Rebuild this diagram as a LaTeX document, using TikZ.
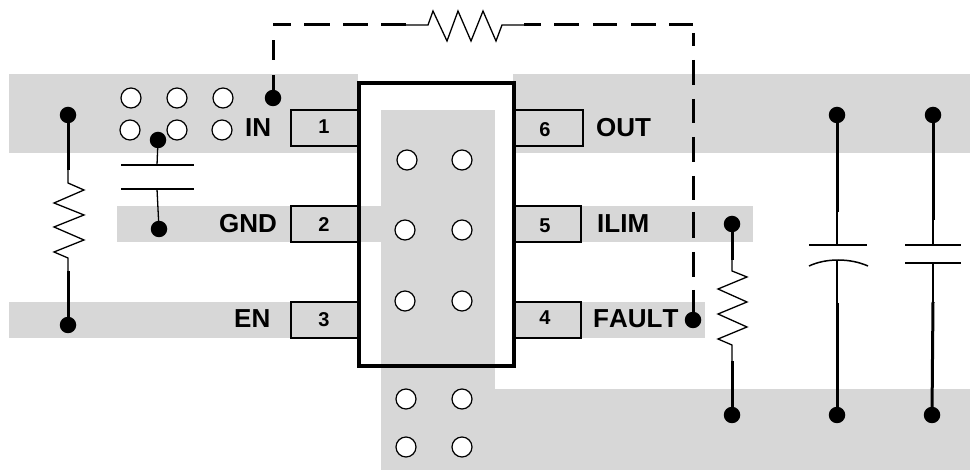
\documentclass[tikz,border=0pt]{standalone}
\usepackage{fontspec}
\setmainfont{Liberation Sans}
\definecolor{band}{HTML}{D7D7D7}
\tikzset{
  x=1pt,y=-1pt,
  pinbox/.style={draw=black,line width=1.3pt,fill=band},
  hole/.style={circle,draw=black,fill=white,line width=1.2pt,inner sep=0pt,minimum size=20pt},
  joint/.style={circle,fill=black,inner sep=0pt,minimum size=16.5pt},
  thickwire/.style={line width=3pt},
  thinwire/.style={line width=1.3pt},
  plate/.style={line width=1.5pt},
  dashwire/.style={line width=3pt},
  pinlabel/.style={font=\fontsize{26}{26}\selectfont\bfseries\addfontfeatures{Kerning=Off},anchor=base west,inner sep=0pt},
  pinnum/.style={font=\fontsize{20}{20}\selectfont\bfseries,anchor=base,inner sep=0pt},
}
\begin{document}
\begin{tikzpicture}
\useasboundingbox (0,0) rectangle (970,470);
% copper areas
\fill[band] (9,74) rectangle (358,153);
\fill[band] (513,74) rectangle (970,153);
\fill[band] (117,206) rectangle (495,242);
\fill[band] (513,206) rectangle (753,242);
\fill[band] (9,302) rectangle (358,338);
\fill[band] (513,302) rectangle (705,338);
% IC body
\fill[white] (359,83) rectangle (514,366);
\fill[band] (381,110) rectangle (495,388);
\fill[band] (359,206) rectangle (495,242);
\fill[band] (381,368) rectangle (495,470);
\fill[band] (381,389) rectangle (970,470);
\draw[line width=4pt] (359,83) rectangle (514,366);
% pins
\draw[pinbox] (291,110) rectangle (357.5,146);
\draw[pinbox] (291,206) rectangle (357.5,242);
\draw[pinbox] (291,302) rectangle (357.5,338);
\draw[pinbox] (515.5,110) rectangle (583,146);
\draw[pinbox] (515.5,206) rectangle (581,242);
\draw[pinbox] (515.5,302) rectangle (581,338);
\node[pinnum] (n1) at (324,134) {1};
\node[pinnum] (n2) at (324,232) {2};
\node[pinnum] (n3) at (324,327) {3};
\node[pinnum] (n6) at (545,137) {6};
\node[pinnum] (n5) at (545,233) {5};
\node[pinnum] (n4) at (545,325) {4};
\node[pinlabel] (lin) at (245,137) {IN};
\node[pinlabel] (lgnd) at (219,233) {GND};
\node[pinlabel] (len) at (234,328) {EN};
\node[pinlabel] (lout) at (596,137) {OUT};
\node[pinlabel] (lilim) at (597,233) {ILIM};
\node[pinlabel] (lfault) at (593,328) {FAULT};
% vias
\foreach \n/\x/\y in {a/131/98,b/177/98,c/223/98,d/130/130,e/177/130,f/222/130,
  g/407/160,h/462/160,i/405/230,j/462/230,k/405/301,l/462/301,
  m/406/399,o/462/399,p/406/447,q/462/447}
  \node[hole] (via\n) at (\x,\y) {};
% joints
\node[joint] (jin) at (273,98) {};
\node[joint] (jrt) at (68,115) {};
\node[joint] (jrb) at (68,325) {};
\node[joint] (jct) at (158,140) {};
\node[joint] (jcb) at (159,229) {};
\node[joint] (jfault) at (693,320) {};
\node[joint] (jilim) at (732,224) {};
\node[joint] (jilimb) at (732,415) {};
\node[joint] (jc2t) at (837,115) {};
\node[joint] (jc2b) at (837,415) {};
\node[joint] (jc3t) at (933,115) {};
\node[joint] (jc3b) at (932,415) {};
\coordinate (rts) at (406,25);
\coordinate (rte) at (524,25);
% dashed feedback
\draw[dashwire,dash pattern=on 23pt off 15pt on 20pt off 15pt on 18pt off 13pt on 26pt off 13pt on 25pt off 13pt on 25pt off 1pt] (jin.center) -- (273,25) -- (rts);
\draw[dashwire,dash pattern=on 17pt off 13pt on 25pt off 14pt on 24pt off 14pt on 25pt off 13pt on 24pt off 8pt on 13pt off 14pt on 25pt off 14pt on 24pt off 14pt on 25pt off 14pt on 24pt off 12pt on 26pt off 14pt on 25pt off 13pt on 31pt off 1pt] (rte) -- (693,25) -- (jfault.center);
\draw[thinwire] (rts) -- (428,25) -- (433,11) -- (447,41) -- (458,11) -- (471,41) -- (483,11) -- (496,41) -- (502,25) -- (rte);
% left resistor
\draw[thickwire] (jrt.center) -- (68,170);
\draw[thinwire] (68,170) -- (68,183) -- (84,190) -- (54,203) -- (84,215) -- (54,227) -- (84,240) -- (54,252) -- (68,258) -- (68,271);
\draw[thickwire] (68,271) -- (jrb.center);
% left capacitor
\draw[thinwire] (jct.center) -- (157,165);
\draw[plate] (121,165) -- (194,165);
\draw[plate] (121,189) -- (194,189);
\draw[thinwire] (157,189) -- (jcb.center);
% ilim resistor
\draw[thickwire] (jilim.center) -- (732,260);
\draw[thinwire] (732,260) -- (732,271) -- (747,277) -- (718,289) -- (747,302) -- (718,314) -- (747,327) -- (718,339) -- (732,345) -- (732,361);
\draw[thickwire] (732,361) -- (jilimb.center);
% polar capacitor
\draw[thickwire] (jc2t.center) -- (837,212);
\draw[thinwire] (837,212) -- (837,245);
\draw[plate] (809,245) -- (867,245);
\draw[plate] (809,266) .. controls (826,258) and (850,258) .. (868,266);
\draw[thinwire] (837,260) -- (837,303);
\draw[thickwire] (837,303) -- (jc2b.center);
% right capacitor
\draw[thickwire] (jc3t.center) -- (933,220);
\draw[thinwire] (933,220) -- (933,245);
\draw[plate] (905,245) -- (961,245);
\draw[plate] (905,263) -- (961,263);
\draw[thinwire] (933,263) -- (933,302);
\draw[thickwire] (933,302) -- (jc3b.center);
\end{tikzpicture}
\end{document}
